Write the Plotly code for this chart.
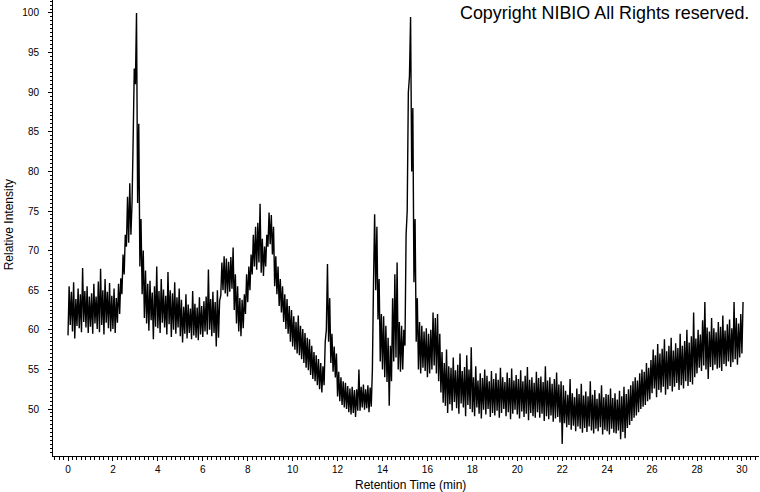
import plotly.graph_objects as go

# Sampling grid of the chromatogram (retention time, min)
t_start = 0.0
t_step = 0.1

# Upper envelope of the noisy trace, one value per 0.1 min (0.0 .. 30.0)
hi_values = [
    65.5, 64.8, 66.0, 63.9, 65.2, 64.5, 67.8, 64.9, 65.5, 64.2,
    64.6, 65.8, 64.2, 66.1, 67.7, 65.0, 66.4, 64.8, 65.9, 64.3,
    65.2, 64.0, 65.8, 66.5, 69.5, 72.0, 76.8, 78.5, 76.0, 93.0,
    100.0, 86.0, 74.0, 70.0, 67.5, 65.8, 66.2, 64.7, 65.5, 68.0,
    64.9, 66.4, 65.1, 64.3, 67.3, 65.0, 64.6, 66.0, 64.1, 65.2,
    63.8, 62.9, 64.5, 63.2, 62.7, 64.9, 63.3, 62.8, 64.1, 63.0,
    63.6, 64.2, 67.6, 63.9, 64.8, 63.5, 65.0, 63.7, 68.5, 69.3,
    69.0, 68.6, 69.2, 70.4, 67.0, 65.5, 64.0, 63.8, 64.5, 67.0,
    68.0, 69.5, 72.0, 73.0, 73.5, 75.9, 71.5, 70.5, 72.0, 74.8,
    74.5, 73.0, 69.3, 68.0, 66.4, 65.5, 64.5, 63.9, 63.0, 62.5,
    61.7, 61.0, 61.8, 60.5, 60.1, 59.6, 59.0, 58.8, 58.0, 57.2,
    56.8, 56.3, 55.8, 55.4, 58.5, 68.3, 64.0, 59.5, 57.9, 57.0,
    54.7, 54.0, 53.5, 53.3, 52.9, 52.6, 52.8, 52.4, 52.5, 55.0,
    52.8, 53.1, 52.5, 53.0, 52.7, 55.0, 74.6, 73.0, 66.4, 62.0,
    61.7, 60.5, 59.0, 58.0, 64.0, 67.0, 68.5, 61.0, 60.5, 60.0,
    72.0, 90.0, 99.5, 88.0, 74.0, 64.0, 61.0, 60.5, 59.8, 60.2,
    59.5, 60.0, 62.2, 61.5, 62.0, 59.5, 57.2, 55.8, 57.5, 55.4,
    55.2, 56.5, 54.9, 55.6, 57.0, 54.8, 55.3, 56.8, 55.0, 57.8,
    54.0, 55.4, 53.6, 54.5, 53.9, 55.0, 54.2, 53.5, 54.8, 53.8,
    54.5, 53.7, 55.2, 54.0, 53.4, 54.6, 53.9, 55.1, 53.6, 54.3,
    53.8, 54.9, 53.5, 54.2, 55.3, 53.7, 54.0, 53.3, 54.7, 53.9,
    54.1, 53.4, 55.4, 53.6, 54.0, 53.2, 53.8, 54.6, 53.1, 53.5,
    53.0, 52.3, 51.8, 53.8, 52.0, 51.5, 52.6, 51.9, 53.2, 51.7,
    52.2, 51.6, 53.5, 51.8, 52.4, 51.3, 52.0, 53.0, 51.5, 51.9,
    51.8, 52.6, 51.4, 52.0, 51.2, 52.3, 51.6, 52.8, 51.9, 52.5,
    53.0, 53.5, 54.0, 53.6, 54.5, 55.0, 54.7, 55.8, 55.2, 56.2,
    57.5, 56.8, 58.2, 57.0, 57.6, 58.8, 57.3, 58.0, 59.0, 57.4,
    58.3, 57.7, 59.5, 58.0, 58.6, 60.0, 58.4, 59.2, 62.2, 58.9,
    60.0, 59.4, 61.2, 63.5, 60.3, 59.8, 61.5, 60.2, 59.7, 61.0,
    60.4, 61.8, 59.9, 60.7, 61.3, 60.2, 63.5, 61.5, 60.8, 62.0,
    63.5,
]

# Lower envelope of the noisy trace, one value per 0.1 min (0.0 .. 30.0)
lo_values = [
    59.3, 60.6, 59.8, 58.9, 60.5, 60.2, 59.7, 61.0, 60.3, 59.6,
    60.4, 59.5, 60.8, 60.1, 59.7, 60.6, 59.4, 60.9, 60.2, 59.8,
    60.1, 59.6, 60.9, 62.0, 64.5, 67.0, 70.5, 71.0, 72.0, 84.0,
    91.0, 76.0, 68.0, 64.5, 61.5, 60.8, 59.9, 61.2, 58.8, 60.4,
    60.2, 59.6, 60.9, 60.3, 59.4, 60.7, 59.1, 60.0, 59.5, 60.3,
    59.2, 58.4, 59.5, 58.9, 59.6, 58.8, 59.3, 59.0, 58.7, 59.4,
    59.1, 59.8, 59.4, 60.0, 59.2, 59.6, 57.9, 59.0, 64.3, 65.0,
    64.6, 64.2, 64.8, 65.2, 62.5, 60.8, 59.8, 59.2, 60.2, 62.0,
    63.5, 65.0, 67.0, 68.0, 67.6, 68.5, 67.2, 66.8, 68.0, 70.5,
    70.8, 69.5, 65.5, 64.5, 63.0, 62.2, 61.0, 60.1, 59.5, 58.5,
    57.9, 57.5, 57.0, 56.8, 56.3, 55.8, 55.2, 54.9, 54.3, 53.8,
    53.5, 53.0, 52.5, 52.1, 53.0, 60.0, 58.5, 55.8, 54.7, 54.0,
    51.6, 51.0, 50.5, 50.2, 50.0, 49.6, 49.3, 49.5, 49.0, 49.8,
    49.8, 50.2, 49.9, 50.1, 49.6, 50.3, 66.0, 65.0, 61.3, 56.0,
    55.0, 54.0, 53.4, 50.4, 53.5, 56.0, 56.5, 55.0, 54.7, 55.0,
    58.0, 75.0, 92.0, 80.0, 66.0, 58.5, 55.0, 54.5, 55.2, 54.8,
    54.0, 54.5, 55.0, 55.5, 54.5, 53.5, 52.1, 50.8, 50.4, 49.5,
    50.6, 49.8, 50.9, 50.1, 49.4, 50.7, 50.2, 49.1, 50.5, 50.0,
    49.6, 49.1, 50.2, 49.4, 48.8, 49.9, 49.3, 50.0, 49.0, 49.5,
    49.2, 49.8, 48.9, 49.5, 50.0, 49.1, 49.6, 48.7, 49.4, 49.9,
    49.3, 48.8, 49.7, 49.0, 49.4, 48.6, 49.5, 49.1, 48.9, 49.6,
    48.9, 49.4, 48.5, 49.1, 48.7, 49.2, 48.4, 48.8, 49.0, 48.3,
    45.6, 48.2, 47.7, 48.0, 47.4, 47.9, 47.2, 47.8, 47.5, 47.0,
    47.6, 47.1, 47.8, 47.3, 46.9, 47.5, 47.2, 47.7, 46.8, 47.4,
    47.2, 46.8, 47.5, 47.0, 46.9, 47.3, 46.2, 47.1, 46.3, 47.6,
    48.0, 48.5, 48.9, 49.2, 49.6, 50.0, 50.3, 50.5, 51.0, 51.2,
    52.0, 52.6, 51.5, 52.4, 52.1, 52.8, 51.8, 52.5, 52.9, 52.2,
    52.8, 53.3, 52.4, 53.0, 52.6, 53.5, 52.9, 53.4, 53.1, 54.0,
    54.5, 55.2, 54.8, 55.5, 55.0, 53.8, 55.3, 54.9, 55.6, 55.1,
    55.2, 54.8, 55.7, 55.4, 56.0, 55.3, 55.9, 56.3, 55.6, 56.5,
    57.0,
]

x_tick_vals = [0, 2, 4, 6, 8, 10, 12, 14, 16, 18, 20, 22, 24, 26, 28, 30]
x_tick_text = [str(v) for v in x_tick_vals]
y_tick_vals = [50, 55, 60, 65, 70, 75, 80, 85, 90, 95, 100]
y_tick_text = [str(v) for v in y_tick_vals]

# Build the trace: alternate between low and high samples
times = [round(t_start + i * t_step, 3) for i in range(len(hi_values))]
xs, ys = [], []
for t, lo, hi in zip(times, lo_values, hi_values):
    xs += [t, t + t_step / 2]
    ys += [lo, hi]

FONT = "Liberation Sans, Arial, sans-serif"

fig = go.Figure(
    go.Scatter(x=xs, y=ys, mode="lines",
               line=dict(color="black", width=1.4), hoverinfo="skip")
)

axis_common = dict(
    showline=True, linecolor="black", linewidth=1,
    showgrid=False, zeroline=False,
    ticks="outside", ticklen=4, tickwidth=1, tickcolor="black",
    tickfont=dict(family=FONT, size=10, color="black"),
)

fig.update_xaxes(
    range=[-0.668, 30.76],
    tickvals=x_tick_vals, ticktext=x_tick_text,
    minor=dict(ticks="outside", ticklen=2.5, dtick=0.2, tick0=0,
               tickcolor="black", showgrid=False),
    ticklabelstandoff=0,
    **axis_common,
)
fig.update_yaxes(
    range=[44.07, 101.64],
    tickvals=y_tick_vals, ticktext=y_tick_text,
    minor=dict(ticks="outside", ticklen=2.5, dtick=0.5, tick0=0,
               tickcolor="black", showgrid=False),
    ticklabelstandoff=7,
    **axis_common,
)

fig.update_layout(
    width=760, height=492,
    margin=dict(l=53, r=1, t=0, b=36),
    paper_bgcolor="white", plot_bgcolor="white",
    showlegend=False,
    font=dict(family=FONT, color="black"),
    annotations=[
        dict(text="Copyright NIBIO All Rights reserved.",
             xref="paper", yref="paper", x=0.989, y=0.998,
             xanchor="right", yanchor="top", showarrow=False,
             font=dict(family=FONT, size=17.9, color="black")),
        dict(text="Retention Time (min)",
             xref="paper", yref="paper", x=0.5064, y=-0.0625,
             xanchor="center", yanchor="middle", showarrow=False,
             font=dict(family=FONT, size=12, color="black")),
        dict(text="Relative Intensity", textangle=-90,
             xref="paper", yref="paper", x=-0.0611, y=0.5077,
             xanchor="center", yanchor="middle", showarrow=False,
             font=dict(family=FONT, size=12, color="black")),
    ],
)

fig.write_html(
    "out.html",
    config={"displayModeBar": False},
    post_script="document.body.style.margin='0px';",
)
